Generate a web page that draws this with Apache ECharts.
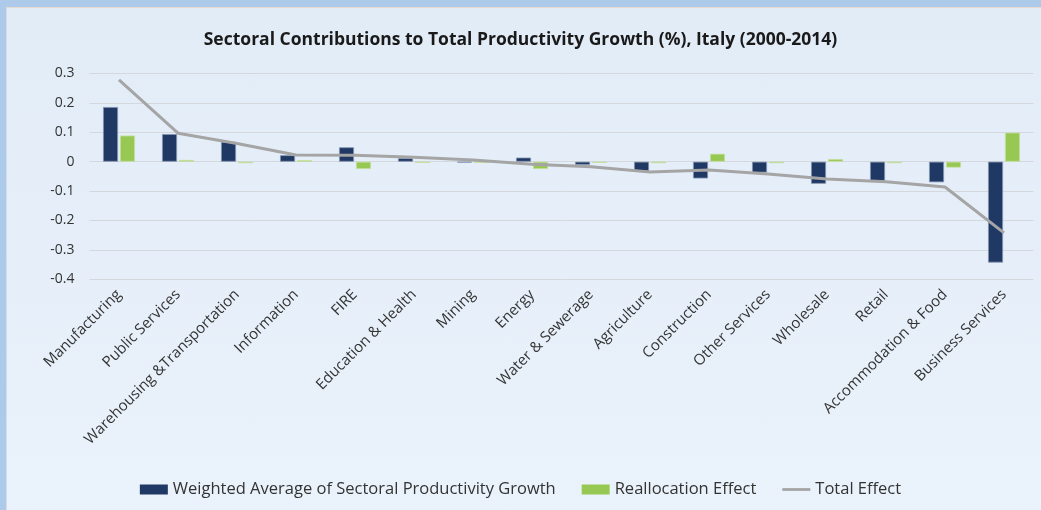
<!DOCTYPE html>
<html><head><meta charset="utf-8">
<script src="https://cdn.jsdelivr.net/npm/echarts@6/dist/echarts.min.js"></script>
<style>
html,body{margin:0;padding:0;width:1041px;height:510px;overflow:hidden;background:#adcaeb;}
#frame{position:absolute;left:6px;top:7px;right:0;bottom:0;background:linear-gradient(#e2ecf7,#eaf2fb);border-left:1px solid #d6dde6;border-top:1px solid #e6d9d0;}
#c{position:absolute;left:0;top:0;width:1041px;height:510px;}
</style></head>
<body><div id="frame"></div><div id="c"></div>
<script>
const categories = ["Manufacturing","Public Services","Warehousing &Transportation","Information","FIRE","Education & Health","Mining","Energy","Water & Sewerage","Agriculture","Construction","Other Services","Wholesale","Retail","Accommodation & Food","Business Services"];
const weightedAvg = [0.186,0.094,0.068,0.022,0.049,0.012,-0.003,0.014,-0.011,-0.032,-0.057,-0.037,-0.075,-0.065,-0.070,-0.343];
const reallocation = [0.089,0.006,-0.005,0.005,-0.025,-0.004,-0.004,-0.025,-0.004,-0.005,0.027,-0.005,0.009,-0.005,-0.020,0.099];
const totalEffect = [0.278,0.097,0.062,0.023,0.022,0.015,0.006,-0.009,-0.017,-0.035,-0.028,-0.042,-0.059,-0.068,-0.086,-0.242];
const yTicks = {min:-0.4,max:0.3,step:0.1};

const chart = echarts.init(document.getElementById('c'));
chart.setOption({
  backgroundColor:'transparent',
  animation:false,
  title:{text:'Sectoral Contributions to Total Productivity Growth (%), Italy (2000-2014)',left:'center',top:26,
    textStyle:{fontFamily:'Open Sans',fontWeight:'bold',fontSize:17.5,color:'#1a1a1a'}},
  grid:{left:89.5,right:7.5,top:73.5,bottom:230.7,containLabel:false},
  legend:{bottom:7,left:'center',itemWidth:28,itemHeight:10,itemGap:26,
    textStyle:{fontFamily:'Open Sans',fontSize:16.5,color:'#333'},
    data:[{name:'Weighted Average of Sectoral Productivity Growth',icon:'rect',itemStyle:{borderWidth:0}},
          {name:'Reallocation Effect',icon:'rect',itemStyle:{borderWidth:0}},
          {name:'Total Effect',icon:'path://M0 0 H30 V3 H0 Z',itemStyle:{color:'#a5a5a5',borderWidth:0}}]},
  xAxis:{type:'category',data:categories,
    axisLine:{show:false},axisTick:{show:false},
    axisLabel:{rotate:45,interval:0,margin:13,fontFamily:'Open Sans',fontSize:15,color:'#333'}},
  yAxis:{type:'value',min:yTicks.min,max:yTicks.max,interval:yTicks.step,
    axisLine:{show:false},axisTick:{show:false},
    splitLine:{lineStyle:{color:'#d4d8dc',width:1}},
    axisLabel:{margin:15,fontFamily:'Open Sans',fontSize:14,color:'#333',
      formatter:v=>{const r=Math.round(v*10)/10;return r===0?'0':r.toFixed(1);}}},
  series:[
    {name:'Weighted Average of Sectoral Productivity Growth',type:'bar',data:weightedAvg,barWidth:15,barGap:'13%',
      itemStyle:{color:'#1f3864',borderColor:'#8496b0',borderWidth:0.8}},
    {name:'Reallocation Effect',type:'bar',data:reallocation,barWidth:15,
      itemStyle:{color:'#97c853',borderColor:'#c4dfa0',borderWidth:0.8}},
    {name:'Total Effect',type:'line',data:totalEffect,symbol:'none',z:5,
      lineStyle:{color:'#a5a5a5',width:3},itemStyle:{color:'#a5a5a5'}}
  ]
});
</script></body></html>
